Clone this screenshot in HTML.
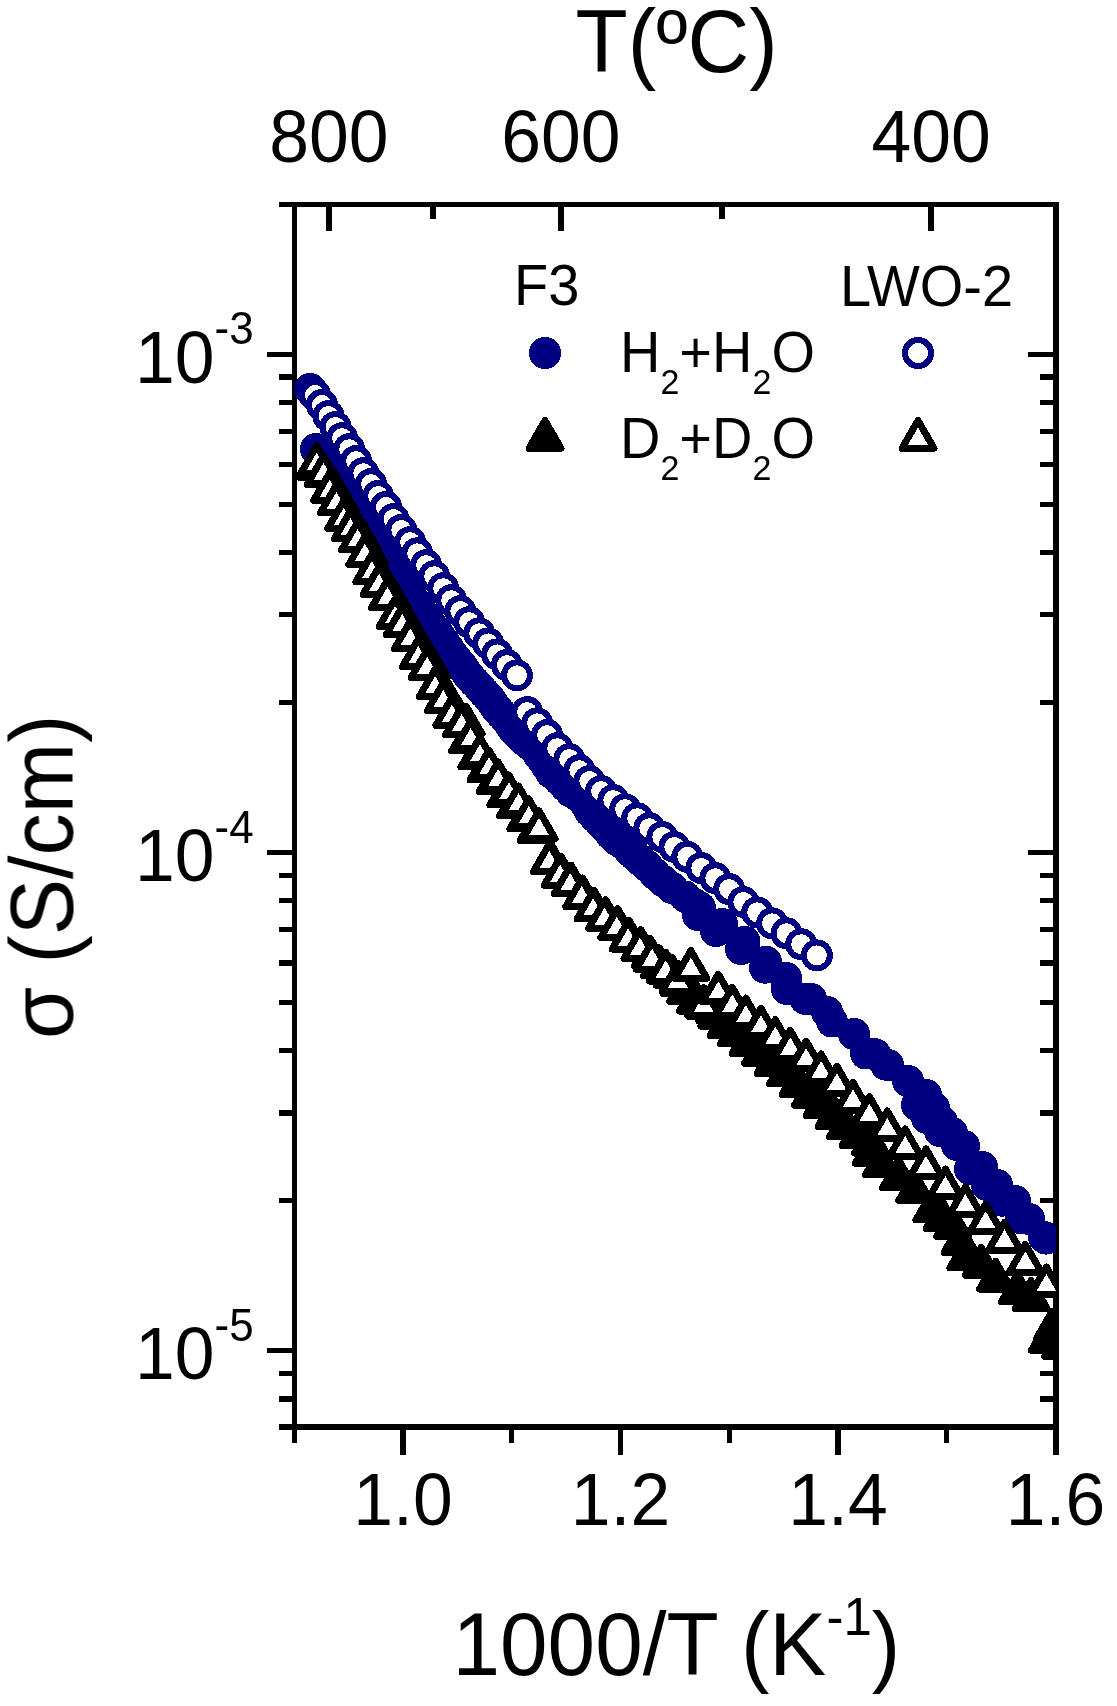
<!DOCTYPE html>
<html><head><meta charset="utf-8"><style>
html,body{margin:0;padding:0;background:#fff}
svg{display:block}
text{font-family:"Liberation Sans",sans-serif;fill:#000}
</style></head><body>
<svg width="1117" height="1706" viewBox="0 0 1117 1706" shape-rendering="crispEdges">
<defs>
<clipPath id="cp"><rect x="294.5" y="204.5" width="761.5" height="1222.5"/></clipPath>
<circle id="fc" r="16" fill="#000080"/>
<circle id="oc" r="13" fill="#fff" stroke="#000080" stroke-width="6"/>
<path id="ft" d="M0,-18.5L16,9.25L-16,9.25Z" fill="#000" stroke="#000" stroke-width="7" stroke-linejoin="round"/>
<path id="ot" d="M0,-18.5L16,9.25L-16,9.25Z" fill="#fff" stroke="#000" stroke-width="7" stroke-linejoin="round"/>
</defs>
<rect width="1117" height="1706" fill="#fff"/>
<g fill="#000">
<rect x="292" y="202" width="5" height="1241"/>
<rect x="1053" y="202" width="5.8" height="1253"/>
<rect x="279" y="202" width="779.8" height="5"/>
<rect x="279" y="1424" width="779.8" height="5.8"/>
<rect x="267" y="351.65" width="25" height="5.2"/>
<rect x="1028" y="351.65" width="25" height="5.2"/>
<rect x="267" y="849.90" width="25" height="5.2"/>
<rect x="1028" y="849.90" width="25" height="5.2"/>
<rect x="267" y="1348.15" width="25" height="5.2"/>
<rect x="1028" y="1348.15" width="25" height="5.2"/>
<rect x="279" y="1396.44" width="13" height="5.2"/>
<rect x="1040" y="1396.44" width="13" height="5.2"/>
<rect x="279" y="1370.95" width="13" height="5.2"/>
<rect x="1040" y="1370.95" width="13" height="5.2"/>
<rect x="279" y="1198.16" width="13" height="5.2"/>
<rect x="1040" y="1198.16" width="13" height="5.2"/>
<rect x="279" y="1110.42" width="13" height="5.2"/>
<rect x="1040" y="1110.42" width="13" height="5.2"/>
<rect x="279" y="1048.17" width="13" height="5.2"/>
<rect x="1040" y="1048.17" width="13" height="5.2"/>
<rect x="279" y="999.89" width="13" height="5.2"/>
<rect x="1040" y="999.89" width="13" height="5.2"/>
<rect x="279" y="960.44" width="13" height="5.2"/>
<rect x="1040" y="960.44" width="13" height="5.2"/>
<rect x="279" y="927.08" width="13" height="5.2"/>
<rect x="1040" y="927.08" width="13" height="5.2"/>
<rect x="279" y="898.19" width="13" height="5.2"/>
<rect x="1040" y="898.19" width="13" height="5.2"/>
<rect x="279" y="872.70" width="13" height="5.2"/>
<rect x="1040" y="872.70" width="13" height="5.2"/>
<rect x="279" y="699.91" width="13" height="5.2"/>
<rect x="1040" y="699.91" width="13" height="5.2"/>
<rect x="279" y="612.17" width="13" height="5.2"/>
<rect x="1040" y="612.17" width="13" height="5.2"/>
<rect x="279" y="549.92" width="13" height="5.2"/>
<rect x="1040" y="549.92" width="13" height="5.2"/>
<rect x="279" y="501.64" width="13" height="5.2"/>
<rect x="1040" y="501.64" width="13" height="5.2"/>
<rect x="279" y="462.19" width="13" height="5.2"/>
<rect x="1040" y="462.19" width="13" height="5.2"/>
<rect x="279" y="428.83" width="13" height="5.2"/>
<rect x="1040" y="428.83" width="13" height="5.2"/>
<rect x="279" y="399.94" width="13" height="5.2"/>
<rect x="1040" y="399.94" width="13" height="5.2"/>
<rect x="279" y="374.45" width="13" height="5.2"/>
<rect x="1040" y="374.45" width="13" height="5.2"/>
<rect x="400.30" y="1429" width="5.4" height="25.5"/>
<rect x="617.80" y="1429" width="5.4" height="25.5"/>
<rect x="835.30" y="1429" width="5.4" height="25.5"/>
<rect x="291.55" y="1429" width="5.4" height="14"/>
<rect x="509.05" y="1429" width="5.4" height="14"/>
<rect x="726.55" y="1429" width="5.4" height="14"/>
<rect x="944.05" y="1429" width="5.4" height="14"/>
<rect x="326.17" y="206" width="5.4" height="25.3"/>
<rect x="558.29" y="206" width="5.4" height="25.3"/>
<rect x="928.34" y="206" width="5.4" height="25.3"/>
<rect x="430.31" y="206" width="5.4" height="13.3"/>
<rect x="719.38" y="206" width="5.4" height="13.3"/>
</g>
<g clip-path="url(#cp)">
<use href="#fc" x="316.0" y="449.0"/>
<use href="#fc" x="319.5" y="454.0"/>
<use href="#fc" x="323.0" y="459.0"/>
<use href="#fc" x="326.2" y="464.5"/>
<use href="#fc" x="329.5" y="470.0"/>
<use href="#fc" x="333.0" y="475.5"/>
<use href="#fc" x="336.5" y="481.0"/>
<use href="#fc" x="339.9" y="486.6"/>
<use href="#fc" x="343.2" y="492.1"/>
<use href="#fc" x="346.7" y="497.6"/>
<use href="#fc" x="350.2" y="503.2"/>
<use href="#fc" x="353.6" y="509.1"/>
<use href="#fc" x="357.1" y="515.1"/>
<use href="#fc" x="360.7" y="521.2"/>
<use href="#fc" x="364.3" y="527.2"/>
<use href="#fc" x="368.2" y="532.7"/>
<use href="#fc" x="372.1" y="538.1"/>
<use href="#fc" x="375.6" y="544.0"/>
<use href="#fc" x="379.2" y="550.0"/>
<use href="#fc" x="383.1" y="555.5"/>
<use href="#fc" x="387.0" y="561.0"/>
<use href="#fc" x="390.8" y="567.0"/>
<use href="#fc" x="394.5" y="573.1"/>
<use href="#fc" x="398.4" y="578.5"/>
<use href="#fc" x="402.3" y="584.0"/>
<use href="#fc" x="406.8" y="590.0"/>
<use href="#fc" x="411.2" y="596.1"/>
<use href="#fc" x="414.7" y="601.7"/>
<use href="#fc" x="418.2" y="607.3"/>
<use href="#fc" x="422.7" y="613.2"/>
<use href="#fc" x="427.2" y="619.1"/>
<use href="#fc" x="431.2" y="624.7"/>
<use href="#fc" x="435.2" y="630.2"/>
<use href="#fc" x="439.7" y="636.2"/>
<use href="#fc" x="444.2" y="642.2"/>
<use href="#fc" x="448.2" y="648.2"/>
<use href="#fc" x="452.2" y="654.2"/>
<use href="#fc" x="456.6" y="659.6"/>
<use href="#fc" x="461.0" y="665.0"/>
<use href="#fc" x="465.0" y="670.5"/>
<use href="#fc" x="469.0" y="676.0"/>
<use href="#fc" x="474.5" y="682.0"/>
<use href="#fc" x="480.0" y="688.0"/>
<use href="#fc" x="484.5" y="693.0"/>
<use href="#fc" x="489.0" y="698.0"/>
<use href="#fc" x="493.0" y="703.5"/>
<use href="#fc" x="497.0" y="709.0"/>
<use href="#fc" x="501.5" y="714.0"/>
<use href="#fc" x="506.0" y="719.0"/>
<use href="#fc" x="510.0" y="724.5"/>
<use href="#fc" x="514.0" y="730.0"/>
<use href="#fc" x="519.0" y="735.0"/>
<use href="#fc" x="524.0" y="740.0"/>
<use href="#fc" x="529.0" y="744.0"/>
<use href="#fc" x="534.0" y="748.0"/>
<use href="#fc" x="538.0" y="753.5"/>
<use href="#fc" x="542.0" y="759.0"/>
<use href="#fc" x="546.8" y="766.0"/>
<use href="#fc" x="551.5" y="773.0"/>
<use href="#fc" x="560.0" y="780.5"/>
<use href="#fc" x="565.5" y="786.1"/>
<use href="#fc" x="571.0" y="791.8"/>
<use href="#fc" x="576.5" y="794.9"/>
<use href="#fc" x="582.0" y="798.0"/>
<use href="#fc" x="586.0" y="804.5"/>
<use href="#fc" x="590.0" y="811.5"/>
<use href="#fc" x="595.0" y="816.8"/>
<use href="#fc" x="601.0" y="823.0"/>
<use href="#fc" x="605.4" y="827.6"/>
<use href="#fc" x="611.0" y="834.5"/>
<use href="#fc" x="617.0" y="840.0"/>
<use href="#fc" x="622.4" y="843.6"/>
<use href="#fc" x="630.0" y="851.0"/>
<use href="#fc" x="635.0" y="855.5"/>
<use href="#fc" x="640.0" y="860.0"/>
<use href="#fc" x="647.0" y="866.0"/>
<use href="#fc" x="654.8" y="873.9"/>
<use href="#fc" x="663.0" y="881.0"/>
<use href="#fc" x="672.0" y="888.0"/>
<use href="#fc" x="685.0" y="896.5"/>
<use href="#fc" x="695.0" y="904.5"/>
<use href="#fc" x="697.9" y="915.0"/>
<use href="#fc" x="700.0" y="907.5"/>
<use href="#fc" x="716.0" y="931.0"/>
<use href="#fc" x="722.0" y="924.0"/>
<use href="#fc" x="741.0" y="949.0"/>
<use href="#fc" x="744.5" y="941.7"/>
<use href="#fc" x="765.0" y="967.7"/>
<use href="#fc" x="766.0" y="961.8"/>
<use href="#fc" x="786.0" y="978.0"/>
<use href="#fc" x="787.0" y="989.0"/>
<use href="#fc" x="805.5" y="999.0"/>
<use href="#fc" x="811.0" y="999.0"/>
<use href="#fc" x="827.0" y="1012.0"/>
<use href="#fc" x="832.0" y="1021.5"/>
<use href="#fc" x="854.0" y="1034.0"/>
<use href="#fc" x="866.0" y="1053.5"/>
<use href="#fc" x="875.0" y="1054.2"/>
<use href="#fc" x="886.0" y="1064.7"/>
<use href="#fc" x="888.0" y="1065.0"/>
<use href="#fc" x="908.0" y="1081.0"/>
<use href="#fc" x="917.0" y="1105.0"/>
<use href="#fc" x="926.0" y="1095.0"/>
<use href="#fc" x="927.0" y="1118.0"/>
<use href="#fc" x="934.0" y="1108.0"/>
<use href="#fc" x="940.0" y="1131.0"/>
<use href="#fc" x="942.0" y="1122.0"/>
<use href="#fc" x="952.0" y="1133.0"/>
<use href="#fc" x="957.0" y="1145.0"/>
<use href="#fc" x="964.0" y="1146.0"/>
<use href="#fc" x="970.0" y="1169.0"/>
<use href="#fc" x="982.0" y="1167.0"/>
<use href="#fc" x="987.0" y="1185.0"/>
<use href="#fc" x="997.0" y="1185.0"/>
<use href="#fc" x="1002.0" y="1200.7"/>
<use href="#fc" x="1015.0" y="1201.0"/>
<use href="#fc" x="1021.0" y="1218.4"/>
<use href="#fc" x="1029.0" y="1219.0"/>
<use href="#fc" x="1044.0" y="1237.0"/>
<use href="#fc" x="1046.0" y="1238.6"/>
<use href="#oc" x="310.0" y="389.0"/>
<use href="#oc" x="312.5" y="392.0"/>
<use href="#oc" x="315.0" y="395.0"/>
<use href="#oc" x="322.0" y="405.0"/>
<use href="#oc" x="328.5" y="416.0"/>
<use href="#oc" x="335.5" y="427.0"/>
<use href="#oc" x="342.2" y="438.1"/>
<use href="#oc" x="349.2" y="449.2"/>
<use href="#oc" x="356.1" y="461.1"/>
<use href="#oc" x="363.3" y="473.2"/>
<use href="#oc" x="371.1" y="484.1"/>
<use href="#oc" x="378.2" y="496.0"/>
<use href="#oc" x="386.0" y="507.0"/>
<use href="#oc" x="393.5" y="519.1"/>
<use href="#oc" x="401.3" y="530.0"/>
<use href="#oc" x="410.2" y="542.1"/>
<use href="#oc" x="417.2" y="553.3"/>
<use href="#oc" x="426.2" y="565.1"/>
<use href="#oc" x="434.2" y="576.2"/>
<use href="#oc" x="443.2" y="588.2"/>
<use href="#oc" x="451.2" y="600.2"/>
<use href="#oc" x="460.4" y="611.1"/>
<use href="#oc" x="469.2" y="622.1"/>
<use href="#oc" x="479.2" y="633.3"/>
<use href="#oc" x="488.1" y="643.4"/>
<use href="#oc" x="497.1" y="654.4"/>
<use href="#oc" x="506.9" y="665.1"/>
<use href="#oc" x="517.0" y="675.4"/>
<use href="#oc" x="527.2" y="712.1"/>
<use href="#oc" x="537.1" y="723.3"/>
<use href="#oc" x="547.1" y="735.1"/>
<use href="#oc" x="557.2" y="748.2"/>
<use href="#oc" x="569.3" y="759.1"/>
<use href="#oc" x="579.3" y="770.2"/>
<use href="#oc" x="589.4" y="781.1"/>
<use href="#oc" x="601.1" y="791.1"/>
<use href="#oc" x="613.3" y="800.1"/>
<use href="#oc" x="625.1" y="809.2"/>
<use href="#oc" x="637.2" y="818.2"/>
<use href="#oc" x="649.3" y="828.2"/>
<use href="#oc" x="662.3" y="837.0"/>
<use href="#oc" x="674.4" y="847.0"/>
<use href="#oc" x="687.3" y="856.8"/>
<use href="#oc" x="701.3" y="868.0"/>
<use href="#oc" x="715.3" y="878.2"/>
<use href="#oc" x="729.2" y="889.1"/>
<use href="#oc" x="743.4" y="902.0"/>
<use href="#oc" x="757.2" y="912.3"/>
<use href="#oc" x="772.1" y="923.3"/>
<use href="#oc" x="786.5" y="933.3"/>
<use href="#oc" x="801.2" y="944.2"/>
<use href="#oc" x="816.9" y="955.4"/>
<use href="#ft" x="315.5" y="468.0"/>
<use href="#ft" x="323.5" y="475.5"/>
<use href="#ft" x="334.1" y="490.3"/>
<use href="#ft" x="340.9" y="502.5"/>
<use href="#ft" x="348.2" y="518.3"/>
<use href="#ft" x="354.9" y="528.5"/>
<use href="#ft" x="362.1" y="539.6"/>
<use href="#ft" x="369.3" y="554.3"/>
<use href="#ft" x="376.4" y="571.5"/>
<use href="#ft" x="383.6" y="584.1"/>
<use href="#ft" x="392.0" y="597.5"/>
<use href="#ft" x="399.6" y="616.3"/>
<use href="#ft" x="406.7" y="624.4"/>
<use href="#ft" x="414.8" y="638.7"/>
<use href="#ft" x="422.8" y="656.6"/>
<use href="#ft" x="431.7" y="667.2"/>
<use href="#ft" x="439.7" y="686.5"/>
<use href="#ft" x="447.8" y="700.5"/>
<use href="#ft" x="456.4" y="715.0"/>
<use href="#ft" x="466.1" y="724.6"/>
<use href="#ft" x="467.7" y="741.6"/>
<use href="#ft" x="476.9" y="757.7"/>
<use href="#ft" x="486.0" y="770.6"/>
<use href="#ft" x="495.1" y="782.4"/>
<use href="#ft" x="505.9" y="795.6"/>
<use href="#ft" x="515.6" y="806.6"/>
<use href="#ft" x="525.8" y="819.5"/>
<use href="#ft" x="536.0" y="831.3"/>
<use href="#ft" x="550.4" y="861.4"/>
<use href="#ft" x="561.2" y="875.0"/>
<use href="#ft" x="571.2" y="883.6"/>
<use href="#ft" x="582.7" y="896.5"/>
<use href="#ft" x="594.1" y="908.7"/>
<use href="#ft" x="605.6" y="918.0"/>
<use href="#ft" x="617.8" y="927.3"/>
<use href="#ft" x="629.2" y="938.8"/>
<use href="#ft" x="640.9" y="948.2"/>
<use href="#ft" x="650.2" y="956.7"/>
<use href="#ft" x="659.4" y="966.4"/>
<use href="#ft" x="665.8" y="970.7"/>
<use href="#ft" x="672.3" y="976.0"/>
<use href="#ft" x="679.3" y="984.7"/>
<use href="#ft" x="685.7" y="992.2"/>
<use href="#ft" x="695.4" y="1001.8"/>
<use href="#ft" x="705.0" y="1007.0"/>
<use href="#ft" x="714.7" y="1011.5"/>
<use href="#ft" x="716.9" y="1016.9"/>
<use href="#ft" x="726.0" y="1026.0"/>
<use href="#ft" x="736.5" y="1034.7"/>
<use href="#ft" x="748.0" y="1044.0"/>
<use href="#ft" x="760.5" y="1054.0"/>
<use href="#ft" x="773.0" y="1064.0"/>
<use href="#ft" x="785.5" y="1074.7"/>
<use href="#ft" x="798.0" y="1085.0"/>
<use href="#ft" x="810.5" y="1096.0"/>
<use href="#ft" x="822.0" y="1106.0"/>
<use href="#ft" x="834.0" y="1117.0"/>
<use href="#ft" x="845.5" y="1127.7"/>
<use href="#ft" x="858.0" y="1136.0"/>
<use href="#ft" x="870.5" y="1143.9"/>
<use href="#ft" x="871.3" y="1154.0"/>
<use href="#ft" x="881.5" y="1165.3"/>
<use href="#ft" x="898.5" y="1178.3"/>
<use href="#ft" x="914.7" y="1191.3"/>
<use href="#ft" x="931.9" y="1210.6"/>
<use href="#ft" x="942.0" y="1219.0"/>
<use href="#ft" x="952.7" y="1227.3"/>
<use href="#ft" x="960.0" y="1243.0"/>
<use href="#ft" x="965.9" y="1258.5"/>
<use href="#ft" x="981.3" y="1265.9"/>
<use href="#ft" x="995.6" y="1279.8"/>
<use href="#ft" x="1017.5" y="1292.3"/>
<use href="#ft" x="1031.0" y="1299.0"/>
<use href="#ft" x="1052.0" y="1330.0"/>
<use href="#ft" x="1047.5" y="1341.0"/>
<use href="#ft" x="1060.7" y="1347.0"/>
<use href="#ot" x="316.7" y="464.2"/>
<use href="#ot" x="323.5" y="474.5"/>
<use href="#ot" x="329.6" y="491.3"/>
<use href="#ot" x="336.4" y="503.5"/>
<use href="#ot" x="343.7" y="519.3"/>
<use href="#ot" x="350.4" y="529.5"/>
<use href="#ot" x="357.6" y="540.6"/>
<use href="#ot" x="364.8" y="555.3"/>
<use href="#ot" x="371.9" y="572.5"/>
<use href="#ot" x="379.1" y="585.1"/>
<use href="#ot" x="387.5" y="598.5"/>
<use href="#ot" x="395.1" y="617.3"/>
<use href="#ot" x="402.2" y="625.4"/>
<use href="#ot" x="410.3" y="639.7"/>
<use href="#ot" x="418.3" y="657.6"/>
<use href="#ot" x="427.2" y="668.2"/>
<use href="#ot" x="435.2" y="687.5"/>
<use href="#ot" x="443.3" y="701.5"/>
<use href="#ot" x="451.9" y="716.0"/>
<use href="#ot" x="461.6" y="725.6"/>
<use href="#ot" x="470.7" y="739.6"/>
<use href="#ot" x="479.9" y="755.7"/>
<use href="#ot" x="489.0" y="768.6"/>
<use href="#ot" x="498.1" y="780.4"/>
<use href="#ot" x="508.9" y="793.6"/>
<use href="#ot" x="518.6" y="804.6"/>
<use href="#ot" x="528.8" y="817.5"/>
<use href="#ot" x="539.0" y="829.3"/>
<use href="#ot" x="549.4" y="862.4"/>
<use href="#ot" x="560.2" y="876.0"/>
<use href="#ot" x="570.2" y="884.6"/>
<use href="#ot" x="581.7" y="897.5"/>
<use href="#ot" x="593.1" y="909.7"/>
<use href="#ot" x="604.6" y="919.0"/>
<use href="#ot" x="616.8" y="928.3"/>
<use href="#ot" x="628.2" y="939.8"/>
<use href="#ot" x="639.9" y="949.2"/>
<use href="#ot" x="652.2" y="960.0"/>
<use href="#ot" x="665.7" y="971.8"/>
<use href="#ot" x="678.0" y="982.0"/>
<use href="#ot" x="690.9" y="969.1"/>
<use href="#ot" x="703.7" y="1006.2"/>
<use href="#ot" x="718.3" y="992.7"/>
<use href="#ot" x="732.3" y="1005.9"/>
<use href="#ot" x="745.9" y="1016.6"/>
<use href="#ot" x="760.9" y="1026.7"/>
<use href="#ot" x="775.3" y="1038.1"/>
<use href="#ot" x="790.3" y="1048.9"/>
<use href="#ot" x="806.1" y="1059.6"/>
<use href="#ot" x="821.1" y="1072.5"/>
<use href="#ot" x="836.9" y="1084.7"/>
<use href="#ot" x="853.0" y="1100.8"/>
<use href="#ot" x="869.4" y="1115.1"/>
<use href="#ot" x="887.3" y="1129.5"/>
<use href="#ot" x="905.2" y="1147.4"/>
<use href="#ot" x="926.0" y="1167.4"/>
<use href="#ot" x="945.4" y="1187.5"/>
<use href="#ot" x="965.4" y="1205.4"/>
<use href="#ot" x="985.7" y="1222.7"/>
<use href="#ot" x="1004.5" y="1240.9"/>
<use href="#ot" x="1025.4" y="1262.9"/>
<use href="#ot" x="1046.4" y="1285.5"/>
</g>
<use href="#fc" x="545" y="353"/>
<use href="#oc" x="918" y="353"/>
<use href="#ft" x="545" y="439"/>
<use href="#ot" x="918" y="439"/>
<g style="filter:grayscale(1)">
<text transform="translate(403.00,1524.50) scale(0.9610,1)" font-size="74.40" text-anchor="middle">1.0</text>
<text transform="translate(620.50,1524.50) scale(0.9610,1)" font-size="74.40" text-anchor="middle">1.2</text>
<text transform="translate(838.00,1524.50) scale(0.9610,1)" font-size="74.40" text-anchor="middle">1.4</text>
<text transform="translate(1055.50,1524.50) scale(0.9610,1)" font-size="74.40" text-anchor="middle">1.6</text>
<text transform="translate(328.87,162.00) scale(0.9610,1)" font-size="74.40" text-anchor="middle">800</text>
<text transform="translate(560.99,162.00) scale(0.9610,1)" font-size="74.40" text-anchor="middle">600</text>
<text transform="translate(931.04,162.00) scale(0.9610,1)" font-size="74.40" text-anchor="middle">400</text>
<text transform="translate(135.00,382.75) scale(0.9610,1)" font-size="74.40">10<tspan font-size="45.79" dy="-38.5">-3</tspan></text>
<text transform="translate(135.00,881.00) scale(0.9610,1)" font-size="74.40">10<tspan font-size="45.79" dy="-38.5">-4</tspan></text>
<text transform="translate(135.00,1379.25) scale(0.9610,1)" font-size="74.40">10<tspan font-size="45.79" dy="-38.5">-5</tspan></text>
<text transform="translate(575.50,72.00) scale(0.9610,1)" font-size="88.97">T(&#186;C)</text>
<text transform="translate(452.50,1675.00) scale(0.9610,1)" font-size="88.97">1000/T (K<tspan font-size="53.07" dy="-40">-1</tspan><tspan dy="40">)</tspan></text>
<text transform="translate(72.50,1039.00) rotate(-90) scale(0.9495,1)" font-size="88.97">&#963; (S/cm)</text>
<text transform="translate(514.00,305.00) scale(0.9610,1)" font-size="58.27">F3</text>
<text transform="translate(840.00,305.50) scale(0.9610,1)" font-size="58.27">LWO-2</text>
<text transform="translate(620.00,372.00) scale(0.9610,1)" font-size="58.27">H<tspan font-size="35.38" dy="22">2</tspan><tspan dy="-22">+H</tspan><tspan font-size="35.38" dy="22">2</tspan><tspan dy="-22">O</tspan></text>
<text transform="translate(620.00,458.00) scale(0.9610,1)" font-size="58.27">D<tspan font-size="35.38" dy="22">2</tspan><tspan dy="-22">+D</tspan><tspan font-size="35.38" dy="22">2</tspan><tspan dy="-22">O</tspan></text>
</g>
</svg>
</body></html>
